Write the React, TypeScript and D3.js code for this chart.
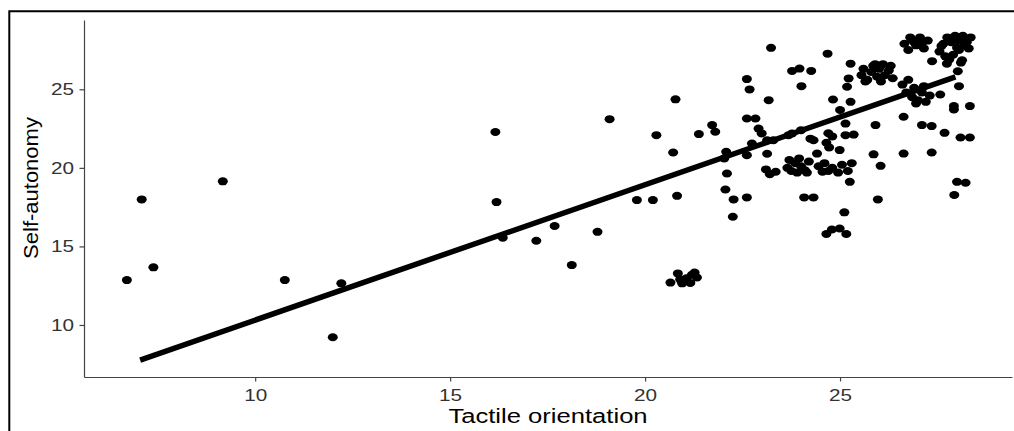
import React, { useEffect, useRef } from 'react';
import * as d3 from 'd3';

// Tactile orientation (x) and self-autonomy (y)
const tactile = [
  6.71, 7.09, 7.39, 9.17, 10.76, 11.99, 12.21, 16.16, 16.19, 16.35, 17.21, 17.68, 18.12, 18.78, 19.09,
  19.79, 20.2, 20.29, 20.72, 20.78, 20.82, 21.38, 21.72, 21.8,
  20.65, 20.84, 20.95, 21.06, 21.16, 21.27, 21.33, 20.9, 21.2,
  22.08, 22.03, 22.1, 22.06, 22.27, 22.61, 22.25, 22.61, 22.74, 22.61, 22.68, 22.61, 22.83, 22.91, 22.99,
  23.13, 23.29, 23.17, 23.23, 23.13, 23.1, 23.2, 23.35,
  23.68, 23.77, 24.0, 23.77, 23.96, 24.26, 24.01, 24.68, 24.24, 24.32, 24.7, 24.8, 24.65, 24.72, 24.41,
  24.99, 24.82, 25.0, 25.22, 25.18, 25.27, 25.27, 25.14, 25.14, 25.35, 25.91, 25.86, 26.04, 26.63, 26.63,
  27.1, 27.35, 27.68, 27.35, 27.92, 27.92, 28.33, 28.09, 28.33, 27.57, 28.05, 28.02, 27.36, 27.74, 28.13,
  23.65, 23.75, 23.85, 23.9, 24.0, 24.1, 24.2, 23.7, 23.95, 24.15,
  24.45, 24.6, 24.7, 24.8, 24.95, 25.05, 25.2, 25.3, 24.55, 25.25,
  24.08, 24.32, 25.97, 27.93, 28.0, 28.22, 25.11, 24.65, 24.79, 24.99, 25.16,
  25.55, 25.6, 25.7, 25.8, 25.85, 25.95, 26.0, 26.1, 26.15, 26.25, 26.35, 26.3, 25.65, 26.05, 25.9,
  26.6, 26.7, 26.85, 26.9, 27.0, 27.1, 27.2, 26.75, 27.3, 27.15, 26.95,
  26.65, 26.8, 26.95, 27.05, 27.15, 26.75, 27.25, 26.9,
  27.55, 27.65, 27.75, 27.85, 27.95, 28.05, 28.15, 28.25, 28.3, 27.7, 27.9, 28.05, 28.2, 27.8, 28.1, 28.35,
  27.6, 28.0, 28.2, 27.85, 26.85, 27.1,
];

const autonomy = [
  12.86, 17.99, 13.67, 19.14, 12.86, 9.22, 12.65, 22.28, 17.82, 15.55, 15.36, 16.3, 13.81, 15.93, 23.1,
  17.95, 17.95, 22.08, 20.98, 24.36, 18.22, 22.15, 22.72, 22.3,
  12.7, 13.28, 12.65, 12.97, 12.68, 13.34, 13.02, 12.9, 13.2,
  21.02, 20.6, 19.64, 18.62, 17.99, 18.12, 16.89, 20.81, 21.55, 25.65, 24.99, 23.14, 23.14, 22.5, 22.19,
  21.76, 21.76, 24.31, 27.64, 20.9, 19.9, 19.6, 19.75,
  22.08, 22.19, 22.4, 26.17, 26.32, 26.17, 25.2, 27.27, 21.86, 21.76, 22.2, 22.0, 21.6, 21.3, 20.91,
  21.13, 24.35, 23.68, 25.69, 25.16, 26.63, 24.2, 22.82, 22.08, 22.12, 22.72, 20.86, 20.13, 23.25, 20.91,
  22.72, 22.66, 22.23, 20.98, 23.93, 23.72, 23.93, 21.93, 21.93, 24.67, 25.2, 26.15, 26.79, 26.63, 26.85,
  20.0, 19.8, 20.3, 19.7, 20.1, 19.85, 20.4, 20.5, 20.6, 19.7,
  20.1, 20.3, 19.8, 20.0, 19.7, 20.2, 19.8, 20.3, 19.75, 19.11,
  18.12, 18.12, 17.99, 18.27, 19.11, 19.05, 17.17, 15.79, 16.08, 16.14, 15.79,
  25.9, 26.3, 25.6, 26.1, 26.5, 25.8, 26.3, 26.6, 25.9, 26.2, 25.7, 26.5, 25.5, 25.5, 26.6,
  25.3, 24.8, 24.5, 25.1, 24.3, 24.8, 24.2, 25.6, 24.6, 25.2, 24.1,
  27.9, 28.3, 27.8, 28.3, 27.6, 27.5, 28.1, 28.0,
  27.4, 27.9, 28.3, 28.0, 28.4, 28.1, 28.4, 28.0, 27.6, 27.1, 27.2, 27.5, 27.8, 26.9, 26.7, 28.3,
  27.75, 27.65, 28.15, 28.25, 28.15, 27.95,
];

// linear fit drawn over the plot
const fitRange = [7.05, 27.96];
const fitIntercept = 1.69;
const fitSlope = 0.862;

const xLimits = [5.61, 29.41];
const yLimits = [6.69, 29.41];
const xTicks = [10, 15, 20, 25];
const yTicks = [10, 15, 20, 25];

const App = () => {
  const ref = useRef<SVGSVGElement>(null);

  useEffect(() => {
    if (!ref.current) return;
    const svg = d3.select(ref.current);
    svg.selectAll('*').remove();

    const left = 84, right = 1012, top = 20, bottom = 377;
    const tickSize = 4.5;

    const x = d3.scaleLinear().domain(xLimits).range([left, right]);
    const y = d3.scaleLinear().domain(yLimits).range([bottom, top]);

    // outer frame (cropped on the right and bottom)
    svg.append('path')
      .attr('d', 'M9.3,431 V11.2 H1014')
      .attr('fill', 'none')
      .attr('stroke', '#000')
      .attr('stroke-width', 2);

    // points
    svg.append('g')
      .selectAll('ellipse')
      .data(tactile.map((t, i) => [t, autonomy[i]]))
      .enter().append('ellipse')
      .attr('cx', d => x(d[0]))
      .attr('cy', d => y(d[1]))
      .attr('rx', 5)
      .attr('ry', 4)
      .attr('fill', '#000');

    // fit line
    const line = d3.line<number>()
      .x(d => x(d))
      .y(d => y(fitIntercept + fitSlope * d));
    svg.append('path')
      .attr('d', line(fitRange))
      .attr('fill', 'none')
      .attr('stroke', '#000')
      .attr('stroke-width', 5.5);

    // axes
    const gx = svg.append('g')
      .attr('transform', `translate(0,${bottom})`)
      .call(d3.axisBottom(x).tickValues(xTicks).tickSize(tickSize).tickSizeOuter(0).tickPadding(7.4));
    const gy = svg.append('g')
      .attr('transform', `translate(${left},0)`)
      .call(d3.axisLeft(y).tickValues(yTicks).tickSize(tickSize).tickSizeOuter(0).tickPadding(5.5));

    [gx, gy].forEach(g => {
      g.select('.domain').attr('stroke', '#444').attr('stroke-width', 1.2);
      g.selectAll('.tick line').attr('stroke', '#444').attr('stroke-width', 1.2);
      g.selectAll('.tick text')
        .attr('fill', '#333')
        .attr('font-family', 'Liberation Sans, Arial, sans-serif')
        .attr('font-size', 17);
    });
    gx.selectAll('.tick text')
      .attr('transform', `translate(0,${tickSize + 7.4}) scale(1.22,1)`)
      .attr('y', 0);
    gy.selectAll('.tick text')
      .attr('transform', `translate(${-(tickSize + 5.5)},0) scale(1.22,1)`)
      .attr('x', 0);

    // axis titles
    svg.append('text')
      .attr('transform', `translate(${(left + right) / 2},423) scale(1.22,1)`)
      .attr('text-anchor', 'middle')
      .attr('font-family', 'Liberation Sans, Arial, sans-serif')
      .attr('font-size', 21)
      .attr('fill', '#000')
      .text('Tactile orientation');

    svg.append('text')
      .attr('transform', 'translate(38,188) rotate(-90) scale(1.1,1)')
      .attr('text-anchor', 'middle')
      .attr('font-family', 'Liberation Sans, Arial, sans-serif')
      .attr('font-size', 20)
      .attr('fill', '#000')
      .text('Self-autonomy');
  }, []);

  return (
    <svg
      ref={ref}
      width={1014}
      height={431}
      style={{ position: 'absolute', left: 0, top: 0, background: '#fff' }}
    />
  );
};

export default App;
